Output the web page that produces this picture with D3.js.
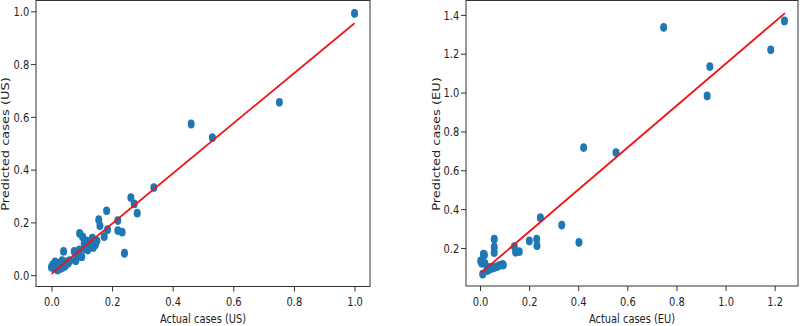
<!DOCTYPE html>
<html>
<head>
<meta charset="utf-8">
<script src="https://cdn.jsdelivr.net/npm/d3@7"></script>
<style>
  html, body { margin: 0; padding: 0; background: #fff; }
  svg { display: block; }
  text { font-family: "DejaVu Sans", sans-serif; fill: #222; }
</style>
</head>
<body>
<svg id="chart" width="800" height="326"></svg>
<script>
// ---- Data ----
const usActual = [0.0, 0.005, 0.01, 0.012, 0.015, 0.02, 0.022, 0.025, 0.03, 0.032, 0.035, 0.038, 0.04, 0.042, 0.045, 0.05, 0.055, 0.06,
  0.075, 0.08, 0.083, 0.09, 0.092, 0.093, 0.1, 0.103, 0.108, 0.11, 0.115, 0.12, 0.125, 0.13, 0.135, 0.138, 0.14, 0.145, 0.15,
  0.156, 0.16, 0.174, 0.182, 0.185, 0.219, 0.219, 0.233, 0.241, 0.262, 0.273, 0.283, 0.338, 0.461, 0.531, 0.752, 1.0];
const usPredicted = [0.03, 0.04, 0.025, 0.05, 0.035, 0.02, 0.045, 0.03, 0.025, 0.04, 0.055, 0.03, 0.09, 0.045, 0.035, 0.05, 0.045, 0.055,
  0.09, 0.055, 0.065, 0.075, 0.096, 0.158, 0.07, 0.145, 0.12, 0.1, 0.13, 0.095, 0.115, 0.12, 0.14, 0.105, 0.125, 0.115, 0.13,
  0.21, 0.187, 0.146, 0.244, 0.172, 0.207, 0.169, 0.163, 0.083, 0.294, 0.27, 0.235, 0.332, 0.573, 0.521, 0.655, 0.992];
const usFit = [[0.0, 0.005], [1.0, 0.955]];

const euActual = [0.003, 0.007, 0.011, 0.014, 0.018, 0.02, 0.027, 0.034, 0.04, 0.048, 0.058, 0.058, 0.058, 0.058, 0.068, 0.08, 0.092, 0.095,
  0.14, 0.145, 0.16, 0.201, 0.231, 0.232, 0.246, 0.333, 0.403, 0.422, 0.554, 0.748, 0.925, 0.936, 1.184, 1.24];
const euPredicted = [0.133, 0.121, 0.065, 0.168, 0.164, 0.121, 0.083, 0.087, 0.1, 0.095, 0.245, 0.204, 0.176, 0.1, 0.104, 0.11, 0.116, 0.112,
  0.207, 0.178, 0.181, 0.236, 0.246, 0.212, 0.356, 0.318, 0.229, 0.717, 0.691, 1.336, 0.983, 1.134, 1.22, 1.369];
const euFit = [[0.005, 0.073], [1.242, 1.409]];

const usXTicks = [0.0, 0.2, 0.4, 0.6, 0.8, 1.0];
const usYTicks = [0.0, 0.2, 0.4, 0.6, 0.8, 1.0];
const euXTicks = [0.0, 0.2, 0.4, 0.6, 0.8, 1.0, 1.2];
const euYTicks = [0.2, 0.4, 0.6, 0.8, 1.0, 1.2, 1.4];

const SQ = 0.76; // horizontal squeeze of the original image

const svg = d3.select("#chart");

function panel(cfg) {
  const x = d3.scaleLinear().domain(cfg.xDomain).range([cfg.left, cfg.right]);
  const y = d3.scaleLinear().domain(cfg.yDomain).range([cfg.bottom, cfg.top]);
  const g = svg.append("g");

  // points
  g.append("g").selectAll("ellipse")
    .data(cfg.xs.map((v, i) => [v, cfg.ys[i]]))
    .join("ellipse")
    .attr("cx", d => x(d[0]))
    .attr("cy", d => y(d[1]))
    .attr("rx", 3.5)
    .attr("ry", 4.4)
    .attr("fill", "#1f77b4");

  // fit line
  g.append("path")
    .datum(cfg.fit)
    .attr("d", d3.line().x(d => x(d[0])).y(d => y(d[1])))
    .attr("stroke", "#f01414")
    .attr("stroke-width", 1.8)
    .attr("fill", "none");

  // frame
  g.append("rect")
    .attr("x", cfg.left).attr("y", cfg.top)
    .attr("width", cfg.right - cfg.left).attr("height", cfg.bottom - cfg.top)
    .attr("fill", "none").attr("stroke", "#333").attr("stroke-width", 1);

  // axes
  const xa = g.append("g").attr("transform", `translate(0,${cfg.bottom})`)
    .call(d3.axisBottom(x).tickValues(cfg.xTicks).tickFormat(d3.format(".1f")).tickSize(5));
  xa.select(".domain").remove();
  xa.selectAll("line").attr("stroke", "#333");
  xa.selectAll("text").attr("y", 20).attr("dy", 0).attr("font-size", 13)
    .attr("transform", `scale(${SQ},1)`).style("fill", "#222");

  const ya = g.append("g").attr("transform", `translate(${cfg.left},0)`)
    .call(d3.axisLeft(y).tickValues(cfg.yTicks).tickFormat(d3.format(".1f")).tickSize(5).tickPadding(4));
  ya.select(".domain").remove();
  ya.selectAll("line").attr("stroke", "#333");
  ya.selectAll("text").attr("font-size", 13)
    .attr("transform", `scale(${SQ},1)`).style("fill", "#222");

  // axis labels
  svg.append("text")
    .attr("transform", `translate(${(cfg.left + cfg.right) / 2},323) scale(${SQ},1)`)
    .attr("text-anchor", "middle").attr("font-size", 13)
    .text(cfg.xLabel);
  svg.append("text")
    .attr("transform", `translate(${cfg.yLabelX},144) scale(${SQ},1) rotate(-90)`)
    .attr("text-anchor", "middle").attr("font-size", 13)
    .text(cfg.yLabel);
}

panel({
  left: 36, right: 370, top: 0.5, bottom: 286.5,
  xDomain: [-0.051, 1.051], yDomain: [-0.043, 1.041],
  xs: usActual, ys: usPredicted, fit: usFit,
  xTicks: usXTicks, yTicks: usYTicks,
  xLabel: "Actual cases (US)", yLabel: "Predicted cases (US)", yLabelX: 9
});

panel({
  left: 466, right: 798, top: 0.5, bottom: 286,
  xDomain: [-0.057, 1.295], yDomain: [0.0043, 1.474],
  xs: euActual, ys: euPredicted, fit: euFit,
  xTicks: euXTicks, yTicks: euYTicks,
  xLabel: "Actual cases (EU)", yLabel: "Predicted cases (EU)", yLabelX: 439.5
});
</script>
</body>
</html>
